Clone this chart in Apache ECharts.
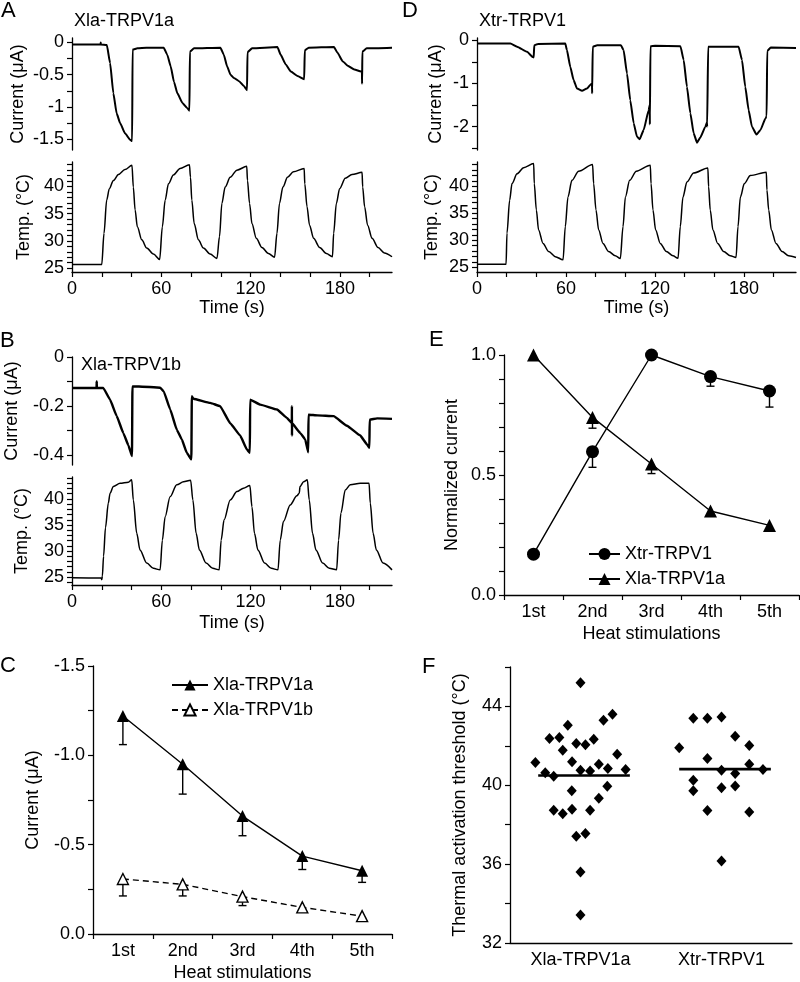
<!DOCTYPE html>
<html>
<head>
<meta charset="utf-8">
<script src="https://cdn.jsdelivr.net/npm/echarts@6/dist/echarts.min.js"></script>
<style>html,body{margin:0;padding:0;background:#fff}#c{width:800px;height:982px}</style>
</head>
<body>
<div id="c"></div>
<script>
// ---------- DATA ----------
// Panel A: Xla-TRPV1a current trace [time s, current µA]
const aCurrent = [[0,-0.03],[19.2,-0.03],[19.3,0.0],[19.4,-0.03],[23.4,-0.04],[25.6,-0.32],[27.8,-0.79],[30,-1.10],[32.3,-1.25],[35.6,-1.41],[39,-1.51],[40.4,-1.53],[40.7,-0.11],[44,-0.09],[50,-0.08],[61.6,-0.08],[64,-0.19],[66.3,-0.37],[68.5,-0.61],[70.8,-0.79],[74.2,-0.94],[77.5,-1.02],[78.9,-1.06],[79.2,-0.14],[82,-0.09],[99.7,-0.08],[102,-0.19],[104.2,-0.37],[106.5,-0.5],[108.8,-0.55],[112.2,-0.6],[115.6,-0.68],[117.6,-0.74],[117.9,-0.15],[121,-0.09],[138,-0.07],[140.2,-0.19],[143.6,-0.34],[147,-0.45],[151.5,-0.52],[156,-0.57],[156.4,-0.12],[159,-0.08],[176,-0.07],[178.4,-0.16],[181.8,-0.29],[185.2,-0.36],[189.7,-0.42],[194.2,-0.45],[194.8,-0.46],[194.9,-0.64],[195.1,-0.14],[198,-0.09],[215,-0.08]];
// Panel A: temperature trace [time s, °C]
const aTemp = [[0,25.7],[20,25.7],[21.5,31.4],[23.3,37.5],[25.1,39.6],[27.8,41.1],[31.2,42.2],[35.6,43.1],[40.3,43.9],[41.2,39.9],[42.4,35.7],[43.9,32.6],[46.9,30.2],[50.2,28.7],[54.7,27.6],[58.9,26.6],[60.7,32.6],[62.6,37.5],[64.8,40.5],[68.1,42.1],[72.6,43.3],[78.9,44.0],[79.6,41.7],[80.5,37.5],[82.1,33.2],[84.9,30.2],[88.3,28.7],[92.8,27.6],[97.4,26.8],[99.1,30.8],[100.7,36.9],[102.9,39.9],[106.3,41.7],[110.8,43.0],[117.4,43.7],[117.9,41.1],[119.3,36.9],[120.9,33.2],[123.8,30.5],[127.6,28.8],[132,27.7],[136.1,27.0],[137.7,31.4],[139.4,36.9],[141.7,39.9],[144.8,41.7],[148.8,42.7],[156,43.3],[156.4,40.5],[157.9,36.3],[159.6,32.9],[162.3,30.5],[166.4,28.8],[170.9,27.7],[175,27.1],[175.8,31.4],[177.6,36.9],[179.8,39.6],[183.6,41.5],[188.1,42.2],[194.9,42.6],[195.3,39.9],[196.6,36.3],[198.6,32.9],[201.6,30.5],[205.6,28.8],[209.9,27.8],[215,27.1]];
// Panel D: Xtr-TRPV1 current trace
const dCurrent = [[0,-0.08],[22.5,-0.08],[27,-0.15],[33.7,-0.27],[37.7,-0.39],[38.2,-0.40],[38.6,-0.12],[41,-0.09],[59.5,-0.08],[60.6,-0.23],[62.9,-0.62],[65.1,-0.92],[67.4,-1.12],[70.8,-1.17],[74.1,-1.12],[76.8,-1.02],[77.5,-1.0],[77.6,-1.23],[78,-0.15],[81,-0.12],[97,-0.12],[98.8,-0.23],[101.1,-0.77],[103.3,-1.39],[105.6,-1.92],[107.8,-2.23],[109.6,-2.29],[112.3,-2.08],[115.7,-1.62],[116.4,-1.5],[116.5,-1.95],[116.9,-0.14],[120,-0.13],[137.1,-0.14],[139.3,-0.46],[141.5,-1.08],[143.8,-1.69],[146,-2.15],[148.3,-2.37],[150.5,-2.25],[153.9,-2.0],[155,-1.9],[155.1,-2.0],[155.8,-0.15],[159,-0.15],[176.3,-0.15],[178.6,-0.46],[180.8,-1.08],[183.1,-1.62],[185.3,-2.0],[188.3,-2.18],[191,-2.08],[194.4,-1.81],[195.2,-1.76],[195.6,-0.25],[198,-0.17],[215,-0.18]];
// Panel D: temperature trace
const dTemp = [[0,25.55],[19.6,25.55],[20.2,31.3],[22,37.4],[23.6,40.5],[27,42.3],[31.4,43.45],[38.2,44.2],[38.6,40.5],[40,35.6],[41.5,31.9],[44.5,29.4],[48.3,27.9],[52.8,26.95],[58,26.35],[59.5,32.5],[61.3,38.0],[64,41.1],[68.5,42.8],[77.9,44.05],[78.6,40.5],[80.2,35.6],[82,31.9],[84.9,29.4],[88.7,27.9],[93.2,27.1],[96.6,26.6],[98.4,32.5],[100,38.0],[102.9,41.1],[107.4,42.8],[116.8,43.9],[117.3,40.5],[118.6,35.6],[120.4,31.9],[123.5,29.4],[127.6,27.9],[132.1,27.1],[135.5,26.65],[137,32.5],[138.8,38.0],[141.5,40.8],[146,42.45],[155.6,43.4],[156.1,39.9],[157.2,35.6],[159,31.9],[162.2,29.4],[166.2,27.9],[170.7,27.1],[174.6,26.8],[175.9,32.5],[177.5,38.0],[180.2,40.5],[184.2,42.0],[195,42.6],[195.4,39.3],[196.6,35.6],[198.4,31.9],[201.5,29.4],[205.6,27.9],[210,27.1],[215,26.8]];
// Panel B: Xla-TRPV1b current trace
const bCurrent = [[0,-0.126],[16.5,-0.126],[16.6,-0.1],[16.7,-0.126],[21,-0.126],[25.6,-0.174],[30,-0.24],[34.5,-0.31],[37.9,-0.36],[40.3,-0.404],[40.6,-0.12],[45,-0.12],[59.2,-0.125],[61.6,-0.14],[66,-0.214],[70.4,-0.296],[73.8,-0.336],[77.1,-0.39],[80.2,-0.417],[80.5,-0.16],[81.6,-0.17],[92.8,-0.187],[99.5,-0.2],[106.3,-0.27],[113,-0.32],[117.5,-0.377],[119.5,-0.39],[119.7,-0.174],[126.5,-0.194],[137.7,-0.214],[144.4,-0.248],[147.7,-0.27],[147.75,-0.2],[147.8,-0.32],[147.85,-0.27],[153.4,-0.31],[156.7,-0.336],[158.7,-0.388],[158.9,-0.235],[165,-0.238],[175.8,-0.241],[184.7,-0.28],[193.7,-0.32],[198.2,-0.356],[199.8,-0.37],[200,-0.255],[205,-0.25],[215,-0.252]];
// Panel B: temperature trace
const bTemp = [[0,24.9],[19.6,24.85],[20,24.5],[20.4,25.2],[21.2,29],[22.5,34.5],[24.4,39.2],[25.6,41.1],[27.8,42.4],[32.3,43.0],[37.9,43.2],[40.1,43.65],[41.2,39.8],[43.5,33.4],[45.7,30.2],[50.2,27.7],[54.7,26.7],[59.2,26.4],[60.7,32.1],[62.6,36.6],[65.9,40.4],[70.4,42.7],[74.9,43.3],[79.7,43.6],[81.2,39.8],[83.4,33.4],[85.6,30.2],[90.1,27.7],[94.6,26.7],[98.9,26.4],[100.2,32.1],[102.2,36.0],[106.3,39.8],[110.8,41.4],[115.2,42.05],[119.5,42.55],[120.9,38.5],[122.6,33.4],[124.9,30.2],[129.4,27.7],[133.9,26.7],[138.4,26.4],[139.9,32.1],[142.1,35.7],[146.6,38.85],[151.1,40.6],[152.7,41.1],[153.2,42.4],[155.6,43.3],[158.1,43.65],[159.4,39.8],[161.6,33.4],[163.9,30.2],[168.4,27.7],[172.9,26.7],[177.8,26.4],[179.1,32.1],[180.7,37.3],[183.6,41.7],[187,42.7],[193.7,43.0],[199.6,43.0],[200.4,39.2],[202.3,33.4],[204.5,30.2],[209,27.7],[215,26.4]];

// Panel C / E categories
const stimCats = ['1st', '2nd', '3rd', '4th', '5th'];
// Panel C: mean current (µA) and error (SEM)
const cXlaA = [-1.22, -0.95, -0.66, -0.436, -0.354];
const cXlaAErr = [0.16, 0.167, 0.11, 0.075, 0.065];
const cXlaB = [-0.308, -0.278, -0.209, -0.149, -0.10];
const cXlaBErr = [0.095, 0.065, 0.05, 0.025, 0.01];
// Panel E: normalized current
const eXtr = [0.17, 0.597, 1.0, 0.91, 0.85];
const eXtrErr = [0, 0.065, 0, 0.04, 0.067];
const eXlaA = [1.0, 0.74, 0.546, 0.35, 0.29];
const eXlaAErr = [0, 0.045, 0.04, 0, 0];
// Panel F: thermal activation thresholds (°C) with horizontal scatter offsets
const fGroups = ['Xla-TRPV1a', 'Xtr-TRPV1'];
const fXlaA = [45.2,41.15,42.37,42.42,43.05,42.12,42.05,42.34,43.3,43.6,41.78,41.2,41.58,40.63,40.46,40.76,40.73,41.07,40.85,40.8,39.72,39.95,39.34,38.73,38.55,38.79,38.73,37.41,37.55,35.6,33.42];
const fXlaAJit = [0,-0.32,-0.22,-0.15,-0.09,-0.03,0.035,0.094,0.163,0.227,-0.126,-0.06,0.26,-0.25,-0.19,0,0.068,0.13,0.194,0.32,-0.062,0.19,0.13,-0.19,-0.126,-0.06,0.068,-0.03,0.035,0,0];
const fXtr = [41.9,43.4,43.4,43.47,42.49,42.02,41.36,41.07,40.26,40.76,40.6,40.8,39.72,39.87,39.97,38.72,38.65,36.16];
const fXtrJit = [-0.30,-0.20,-0.10,0,0.097,0.197,-0.10,0.197,-0.20,0,0.097,0.294,-0.20,0,0.097,-0.10,0.197,0];
const fMeans = [40.5, 40.82];

// ---------- STYLE / LAYOUT ----------
const FONT = 'Liberation Sans, Arial, Helvetica, sans-serif';
const FS = 18;
const BLACK = '#000';
const axisLineStyle = { show: true, onZero: false, lineStyle: { color: BLACK, width: 1.3 } };
const labelStyle = (extra) => Object.assign({ color: BLACK, fontSize: FS, fontFamily: FONT, margin: 8 }, extra || {});
const nameStyle = { color: BLACK, fontSize: FS, fontFamily: FONT };

const grids = [
  { left: 72, top: 38, width: 320, height: 112 },   // 0 A current
  { left: 72, top: 162, width: 320, height: 110 },  // 1 A temp
  { left: 477, top: 38, width: 319, height: 112 },  // 2 D current
  { left: 477, top: 162, width: 319, height: 110 }, // 3 D temp
  { left: 72, top: 357, width: 320, height: 108 },  // 4 B current
  { left: 72, top: 477, width: 320, height: 108 },  // 5 B temp
  { left: 93, top: 666, width: 299, height: 268 },  // 6 C
  { left: 504, top: 355, width: 295, height: 240 }, // 7 E
  { left: 510, top: 667, width: 282, height: 276 }  // 8 F
].map(g => Object.assign({ containLabel: false, outerBoundsMode: 'none' }, g));

const range = (a, b, s) => { const r = []; for (let v = a; v <= b + 1e-9; v += s) r.push(Math.round(v * 1000) / 1000); return r; };
const timeLabels = [0, 60, 120, 180];
const timeTicks = range(0, 200, 20);

function hiddenTimeX(gi) {
  return { gridIndex: gi, type: 'value', min: 0, max: 215, show: false, axisLine: { onZero: false } };
}
function timeX(gi, gap) {
  return {
    gridIndex: gi, type: 'value', min: 0, max: 215, position: 'bottom',
    axisLine: axisLineStyle, splitLine: { show: false },
    axisTick: { show: true, length: 5, lineStyle: { color: BLACK, width: 1.2 }, customValues: timeTicks },
    axisLabel: labelStyle({ customValues: timeLabels }),
    name: 'Time (s)', nameLocation: 'middle', nameGap: gap, nameTextStyle: nameStyle
  };
}
function valY(gi, min, max, labels, ticks, name, gap, fmt, extra) {
  return Object.assign({
    gridIndex: gi, type: 'value', min: min, max: max, position: 'left',
    axisLine: axisLineStyle, splitLine: { show: false },
    axisTick: { show: true, length: 5, lineStyle: { color: BLACK, width: 1.2 }, customValues: ticks },
    axisLabel: labelStyle({ customValues: labels, formatter: fmt || (v => String(v)) }),
    name: name, nameLocation: 'middle', nameGap: gap, nameTextStyle: nameStyle
  }, extra || {});
}
function catX(gi, gap) {
  return {
    gridIndex: gi, type: 'category', data: stimCats, boundaryGap: true,
    axisLine: axisLineStyle, splitLine: { show: false },
    axisTick: { show: true, length: 5, lineStyle: { color: BLACK, width: 1.2 } },
    axisLabel: labelStyle(),
    name: 'Heat stimulations', nameLocation: 'middle', nameGap: gap, nameTextStyle: nameStyle
  };
}

const xAxes = [
  hiddenTimeX(0), timeX(1, 26), hiddenTimeX(2), timeX(3, 26), hiddenTimeX(4), timeX(5, 29),
  catX(6, 30), catX(7, 30),
  {
    gridIndex: 8, type: 'value', min: -0.5, max: 1.5,
    axisLine: axisLineStyle, splitLine: { show: false }, axisTick: { show: false },
    axisLabel: labelStyle({ customValues: [0, 1], formatter: v => fGroups[Math.round(v)] })
  }
];
const curFmt = v => (v === 0 ? '0' : String(v));
const yAxes = [
  valY(0, -1.67, 0.07, [0, -0.5, -1, -1.5], [0, -0.25, -0.5, -0.75, -1, -1.25, -1.5], 'Current (\u03bcA)', 45, curFmt),
  valY(1, 24.3, 44.5, [25, 30, 35, 40], range(25, 44, 1), 'Temp. (\u00b0C)', 39),
  valY(2, -2.54, 0.05, [0, -1, -2], [0, -0.5, -1, -1.5, -2, -2.5], 'Current (\u03bcA)', 32, curFmt),
  valY(3, 24.1, 44.5, [25, 30, 35, 40], range(25, 44, 1), 'Temp. (\u00b0C)', 36),
  valY(4, -0.44, 0, [0, -0.2, -0.4], [0, -0.1, -0.2, -0.3, -0.4], 'Current (\u03bcA)', 51, curFmt),
  valY(5, 23.5, 44.2, [25, 30, 35, 40], range(24, 44, 1), 'Temp. (\u00b0C)', 41),
  valY(6, -1.5, 0, [-1.5, -1.0, -0.5, 0], [-1.5, -1.25, -1.0, -0.75, -0.5, -0.25, 0], 'Current (\u03bcA)', 51, v => v.toFixed(1), { inverse: true }),
  valY(7, 0, 1, [0, 0.5, 1], range(0, 1, 0.1), 'Normalized current', 43, v => v.toFixed(1)),
  valY(8, 32, 46, [32, 36, 40, 44], range(32, 46, 2), 'Thermal activation threshold (\u00b0C)', 41)
];

function trace(gi, data, w, smooth) {
  return { type: 'line', xAxisIndex: gi, yAxisIndex: gi, data: data, showSymbol: false, symbol: 'none',
    smooth: smooth, smoothMonotone: 'x',
    lineStyle: { color: BLACK, width: w }, silent: true, animation: false, z: 3 };
}
function errRender(dir) {
  return function (params, api) {
    const i = api.value(0), m = api.value(1), e = api.value(2);
    if (!e) return null;
    const a = api.coord([i, m]);
    const b = api.coord([i, m + dir * e]);
    const st = { stroke: BLACK, lineWidth: 1.4 };
    return { type: 'group', children: [
      { type: 'line', shape: { x1: a[0], y1: a[1], x2: b[0], y2: b[1] }, style: st },
      { type: 'line', shape: { x1: b[0] - 4, y1: b[1], x2: b[0] + 4, y2: b[1] }, style: st }
    ] };
  };
}
function errSeries(gi, means, errs, dir) {
  return { type: 'custom', xAxisIndex: gi, yAxisIndex: gi, renderItem: errRender(dir), z: 1, silent: true, animation: false,
    encode: { x: 0, y: 1 }, data: means.map((m, i) => [i, m, errs[i]]) };
}
function meanLine(gi, mean, gx) {
  return { type: 'line', xAxisIndex: gi, yAxisIndex: gi, symbol: 'none', silent: true, animation: false,
    lineStyle: { color: BLACK, width: 2.6 }, data: [[gx - 0.3, mean], [gx + 0.35, mean]], z: 2 };
}

const series = [
  trace(0, aCurrent, 2, 0.15), trace(1, aTemp, 1.5, 0.3),
  trace(2, dCurrent, 2, 0.15), trace(3, dTemp, 1.5, 0.3),
  trace(4, bCurrent, 2.4, 0.1), trace(5, bTemp, 1.5, 0.3),
  errSeries(6, cXlaA, cXlaAErr, 1),
  errSeries(6, cXlaB, cXlaBErr, 1),
  { name: 'C:Xla-TRPV1a', type: 'line', xAxisIndex: 6, yAxisIndex: 6, data: cXlaA, symbol: 'triangle', symbolSize: 12,
    lineStyle: { color: BLACK, width: 1.4 }, itemStyle: { color: BLACK }, animation: false, z: 3 },
  { name: 'C:Xla-TRPV1b', type: 'line', xAxisIndex: 6, yAxisIndex: 6, data: cXlaB, symbol: 'triangle', symbolSize: 11,
    lineStyle: { color: BLACK, width: 1.4, type: [6, 4] }, itemStyle: { color: '#fff', borderColor: BLACK, borderWidth: 1.4 }, animation: false, z: 3 },
  errSeries(7, eXtr, eXtrErr, -1),
  errSeries(7, eXlaA, eXlaAErr, -1),
  { name: 'E:Xtr-TRPV1', type: 'line', xAxisIndex: 7, yAxisIndex: 7, data: eXtr, symbol: 'circle', symbolSize: 13,
    lineStyle: { color: BLACK, width: 1.4 }, itemStyle: { color: BLACK }, animation: false, z: 3 },
  { name: 'E:Xla-TRPV1a', type: 'line', xAxisIndex: 7, yAxisIndex: 7, data: eXlaA, symbol: 'triangle', symbolSize: 13,
    lineStyle: { color: BLACK, width: 1.4 }, itemStyle: { color: BLACK }, animation: false, z: 3 },
  { type: 'scatter', xAxisIndex: 8, yAxisIndex: 8, symbol: 'diamond', symbolSize: [10, 11], itemStyle: { color: BLACK, opacity: 1 },
    data: fXlaA.map((v, i) => [0 + fXlaAJit[i], v]), animation: false, z: 3 },
  { type: 'scatter', xAxisIndex: 8, yAxisIndex: 8, symbol: 'diamond', symbolSize: [10, 11], itemStyle: { color: BLACK, opacity: 1 },
    data: fXtr.map((v, i) => [1 + fXtrJit[i], v]), animation: false, z: 3 },
  meanLine(8, fMeans[0], 0), meanLine(8, fMeans[1], 1)
];

const legendText = { color: BLACK, fontSize: FS, fontFamily: FONT };
const legends = [
  { data: ['C:Xla-TRPV1a', 'C:Xla-TRPV1b'], orient: 'vertical', left: 171, top: 676, itemWidth: 36, itemHeight: 14, itemGap: 7,
    padding: 0, textStyle: legendText, formatter: n => n.slice(2), selectedMode: false },
  { data: ['E:Xtr-TRPV1', 'E:Xla-TRPV1a'], orient: 'vertical', left: 588, top: 545, itemWidth: 31, itemHeight: 15, itemGap: 7,
    padding: 0, textStyle: legendText, formatter: n => n.slice(2), selectedMode: false }
];

function txt(x, y, s, size) {
  return { type: 'text', x: x, y: y, silent: true,
    style: { text: s, fill: BLACK, fontSize: size, fontFamily: FONT, textVerticalAlign: 'middle', verticalAlign: 'middle', textAlign: 'left', align: 'left' } };
}
const graphics = [
  txt(1, 11, 'A', 22), txt(402, 11, 'D', 22), txt(0, 341, 'B', 22), txt(0, 666, 'C', 22), txt(429, 340, 'E', 22), txt(422, 667, 'F', 22),
  txt(74, 21, 'Xla-TRPV1a', FS), txt(479, 21, 'Xtr-TRPV1', FS), txt(81, 365, 'Xla-TRPV1b', FS)
];

const chart = echarts.init(document.getElementById('c'), null, { renderer: 'canvas' });
chart.setOption({
  backgroundColor: '#fff',
  animation: false,
  textStyle: { fontFamily: FONT },
  grid: grids,
  xAxis: xAxes,
  yAxis: yAxes,
  legend: legends,
  graphic: graphics,
  series: series
});
</script>
</body>
</html>
